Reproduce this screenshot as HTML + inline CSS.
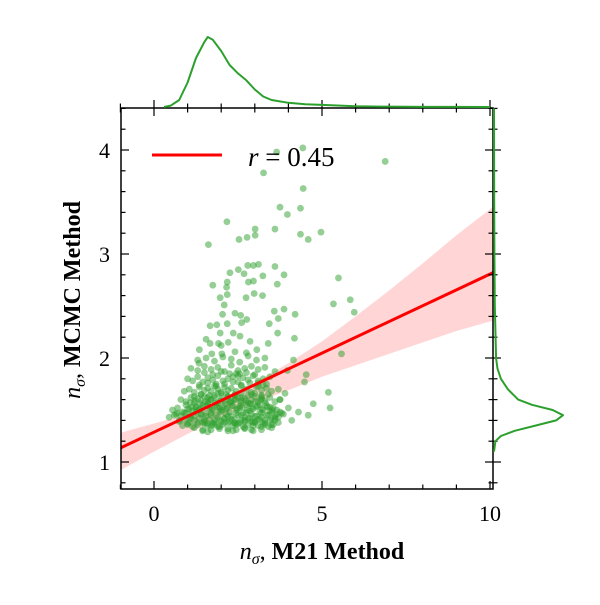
<!DOCTYPE html>
<html><head><meta charset="utf-8"><style>
html,body{margin:0;padding:0;background:#fff;}
svg text{font-family:"Liberation Serif","DejaVu Serif",serif;}
</style></head><body>
<svg id="chart" width="600" height="600" viewBox="0 0 600 600" xmlns="http://www.w3.org/2000/svg">
<defs><clipPath id="clip"><rect x="121" y="108" width="372" height="381"/></clipPath></defs>
<g id="band" clip-path="url(#clip)"></g>
<g id="pts" clip-path="url(#clip)"></g>
<g id="fit" clip-path="url(#clip)"></g>
<g id="axes"></g>
<g id="kde"></g>
<g>
<line x1="152" y1="155" x2="222" y2="155" stroke="#ff0000" stroke-width="3"/>
<text x="248" y="166" font-size="27"><tspan font-style="italic">r</tspan> = 0.45</text>
</g>
<text x="322" y="559" font-size="24" text-anchor="middle"><tspan font-style="italic">n</tspan><tspan font-style="italic" font-size="16" dy="5">σ</tspan><tspan dy="-5">, </tspan><tspan font-weight="bold">M21 Method</tspan></text>
<text transform="translate(80,300) rotate(-90)" font-size="24" text-anchor="middle"><tspan font-style="italic">n</tspan><tspan font-style="italic" font-size="16" dy="5">σ</tspan><tspan dy="-5">, </tspan><tspan font-weight="bold">MCMC Method</tspan></text>
</svg>
<script>
const xTicks=[0,5,10];
const yTicks=[1,2,3,4];
const ptX=[3.65,4.43,6.88,3.26,4.44,3.75,3.97,4.36,2.17,3.01,3.60,1.62,2.53,2.77,3.01,4.36,4.59,4.97,5.49,5.84,5.96,5.34,5.58,5.19,5.24,4.74,4.59,4.48,4.53,4.18,4.20,3.87,3.58,3.70,3.43,3.68,3.87,3.60,3.67,3.24,2.79,2.96,3.11,2.51,2.26,2.68,2.81,2.96,2.18,2.16,1.75,1.97,2.18,2.74,2.98,3.23,2.09,2.04,2.41,2.58,1.67,1.87,2.18,2.61,2.76,1.97,2.36,2.56,2.86,1.35,1.67,1.92,2.21,3.06,3.40,4.15,3.97,1.34,1.72,2.02,2.41,
0.45,0.6,0.75,0.9,1.0,1.1,1.2,1.3,1.4,1.5,1.6,1.7,1.8,1.9,2.0,2.1,2.2,2.3,2.4,2.5,2.6,2.7,2.8,2.9,3.0,3.1,3.2,3.3,3.4,3.5,3.6,3.7,3.85,
0.55,0.7,0.85,0.95,1.05,1.15,1.25,1.35,1.45,1.55,1.65,1.75,1.85,1.95,2.05,2.15,2.25,2.35,2.45,2.55,2.65,2.75,2.85,2.95,3.05,3.15,3.25,3.35,3.45,3.55,3.65,3.75,
0.8,0.95,1.1,1.2,1.3,1.4,1.5,1.6,1.7,1.8,1.9,2.0,2.1,2.2,2.3,2.4,2.5,2.6,2.7,2.8,2.9,3.0,3.1,3.2,3.3,3.45,3.6,3.75,
0.9,1.05,1.2,1.35,1.5,1.6,1.7,1.8,1.9,2.0,2.1,2.2,2.3,2.45,2.6,2.75,2.9,3.05,3.2,3.35,3.5,3.7,
1.0,1.15,1.3,1.45,1.6,1.75,1.9,2.05,2.2,2.35,2.5,2.65,2.8,2.95,3.1,3.25,3.45,
1.1,1.3,1.5,1.7,1.9,2.1,2.3,2.5,2.7,2.9,3.1,3.3,3.6,
1.2,1.45,1.7,1.95,2.2,2.45,2.7,2.95,3.2,3.5,
1.3,1.55,1.8,2.05,2.3,2.55,2.8,3.05,3.3,
1.5,1.8,2.1,2.4,2.7,3.0,3.3,3.6,
1.25,1.6,1.95,2.25,2.55,2.85,3.15,3.45,
1.4,1.65,1.9,2.15,2.4,2.6,2.9,3.2,
0.7,1.05,1.6,2.35,2.9,3.5,1.85,2.55,3.1,2.0,2.75,1.55,2.45,3.25,3.75,4.0,4.3,3.9,4.1,
0.65,0.8,0.95,1.1,1.25,1.4,1.55,1.7,1.85,2.0,2.15,2.3,2.45,2.6,2.75,2.9,3.05,3.2,3.35,3.5,3.65,3.8,
0.75,0.9,1.05,1.2,1.35,1.5,1.65,1.8,1.95,2.1,2.25,2.4,2.55,2.7,2.85,3.0,3.15,3.3,3.45,3.6,
1.0,1.12,1.28,1.42,1.58,1.72,1.88,2.02,2.18,2.32,2.48,2.62,2.78,2.92,3.08,3.22,3.38,3.52,
1.08,1.22,1.38,1.52,1.68,1.82,1.98,2.12,2.28,2.42,2.58,2.72,2.88,3.02,3.18,3.32,
0.85,1.0,1.15,1.3,1.45,1.6,1.75,1.9,2.05,2.2,2.35,2.5,2.65,2.8,2.95,3.1,3.25,3.4,3.55,3.7,
1.2,1.4,1.6,1.8,2.0,2.2,2.4,2.6,2.8,3.0,3.2,3.4,
1.35,1.6,1.85,2.1,2.35,2.6,2.85,3.1,3.35,
1.5,1.75,2.0,2.25,2.5,2.75,3.0,
1.45,1.7,1.95,2.2,2.45,2.7,2.95,3.2];
const ptY=[3.98,4.02,3.89,3.78,3.63,3.45,3.38,3.44,3.31,3.24,3.24,3.09,3.14,3.16,3.18,3.19,3.14,3.21,2.77,2.56,2.44,2.52,2.04,1.67,1.52,1.56,1.45,1.77,1.84,2.19,2.42,2.47,2.45,2.38,2.33,2.24,2.80,2.88,2.71,2.79,2.89,2.89,2.90,2.85,2.82,2.81,2.73,2.74,2.73,2.68,2.70,2.58,2.61,2.58,2.62,2.60,2.51,2.42,2.43,2.41,2.31,2.32,2.33,2.34,2.37,2.24,2.24,2.21,2.16,2.08,2.14,2.14,2.15,2.08,2.14,1.98,1.88,1.95,2.04,2.04,2.06,
1.43,1.45,1.40,1.47,1.36,1.42,1.44,1.38,1.46,1.41,1.37,1.45,1.40,1.43,1.39,1.42,1.44,1.41,1.38,1.45,1.40,1.43,1.42,1.39,1.44,1.41,1.43,1.40,1.45,1.42,1.44,1.43,1.46,
1.50,1.52,1.48,1.55,1.51,1.49,1.53,1.50,1.54,1.47,1.52,1.50,1.55,1.49,1.53,1.51,1.48,1.54,1.50,1.52,1.47,1.55,1.49,1.51,1.53,1.48,1.50,1.54,1.49,1.52,1.50,1.48,
1.60,1.58,1.62,1.57,1.61,1.59,1.63,1.58,1.60,1.62,1.57,1.61,1.59,1.63,1.58,1.60,1.62,1.59,1.61,1.57,1.60,1.63,1.58,1.61,1.59,1.62,1.58,1.60,
1.68,1.70,1.67,1.72,1.69,1.71,1.68,1.73,1.70,1.67,1.72,1.69,1.71,1.68,1.73,1.70,1.67,1.72,1.69,1.71,1.68,1.70,
1.80,1.78,1.82,1.77,1.81,1.79,1.83,1.78,1.80,1.82,1.77,1.81,1.79,1.83,1.78,1.80,1.82,
1.90,1.88,1.92,1.89,1.91,1.87,1.93,1.88,1.90,1.92,1.89,1.91,1.87,
1.33,1.31,1.35,1.34,1.32,1.36,1.33,1.35,1.34,1.36,
1.98,2.00,1.97,2.01,1.99,1.96,2.02,1.98,2.00,
1.37,1.36,1.38,1.37,1.39,1.38,1.36,1.40,
1.53,1.56,1.52,1.57,1.54,1.56,1.55,1.53,
1.65,1.64,1.66,1.65,1.64,1.66,1.65,1.64,
1.47,1.43,1.29,1.30,1.31,1.33,1.75,1.85,1.76,2.12,2.05,2.18,1.85,1.74,1.60,1.52,1.48,1.66,1.40,
1.46,1.44,1.47,1.45,1.48,1.46,1.44,1.47,1.45,1.48,1.46,1.44,1.47,1.45,1.48,1.46,1.44,1.47,1.45,1.48,1.46,1.47,
1.39,1.41,1.38,1.40,1.42,1.39,1.41,1.38,1.40,1.42,1.39,1.41,1.38,1.40,1.42,1.39,1.41,1.38,1.40,1.42,
1.51,1.53,1.50,1.52,1.54,1.51,1.53,1.50,1.52,1.54,1.51,1.53,1.50,1.52,1.54,1.51,1.53,1.50,
1.57,1.59,1.56,1.58,1.60,1.57,1.59,1.56,1.58,1.60,1.57,1.59,1.56,1.58,1.60,1.57,
1.35,1.37,1.34,1.36,1.38,1.35,1.37,1.34,1.36,1.38,1.35,1.37,1.34,1.36,1.38,1.35,1.37,1.34,1.36,1.38,
1.63,1.65,1.62,1.64,1.66,1.63,1.65,1.62,1.64,1.66,1.63,1.65,
1.74,1.76,1.73,1.75,1.77,1.74,1.76,1.73,1.75,
1.86,1.84,1.87,1.85,1.83,1.86,1.84,
1.30,1.31,1.32,1.30,1.31,1.32,1.30,1.31];
const fitSlope=0.152, fitIntercept=1.287;
const bandX=[-1,0,1,2,2.5,3,4,5,6,7,8,9,10.2];
const bandLo=[0.92,1.10,1.27,1.43,1.50,1.57,1.69,1.82,1.93,2.04,2.15,2.26,2.37];
const bandHi=[1.28,1.37,1.46,1.60,1.68,1.76,1.95,2.16,2.40,2.65,2.91,3.18,3.48];
const kdeXGrid=[0.3,0.5,0.75,1.0,1.25,1.5,1.6,1.75,2.0,2.25,2.5,2.75,3.0,3.25,3.5,4.0,4.5,5,6,7,8,9,10];
const kdeXDens=[0,0.02,0.1,0.35,0.7,0.93,1.0,0.96,0.8,0.6,0.48,0.38,0.25,0.15,0.1,0.06,0.04,0.03,0.01,0.005,0.002,0.001,0];
const kdeYGrid=[1.1,1.2,1.25,1.3,1.35,1.4,1.45,1.5,1.55,1.6,1.7,1.8,1.9,2.0,2.5,3.0,3.5,4.0,4.4];
const kdeYDens=[0,0.02,0.1,0.3,0.6,0.9,1.0,0.85,0.55,0.35,0.2,0.1,0.05,0.03,0.012,0.006,0.003,0.001,0];

const X0=121,X1=493,Y0=108,Y1=489;
const sx=v=>154+(v-0)*33.6;
const sy=v=>462-(v-1)*104;
const NS='http://www.w3.org/2000/svg';
function mk(tag,attrs,parent){const e=document.createElementNS(NS,tag);for(const k in attrs)e.setAttribute(k,attrs[k]);parent.appendChild(e);return e;}

const bandG=document.getElementById('band');
let d='';
bandX.forEach((x,i)=>{d+=(i?'L':'M')+sx(x)+','+sy(bandHi[i]);});
for(let i=bandX.length-1;i>=0;i--)d+='L'+sx(bandX[i])+','+sy(bandLo[i]);
const band=mk('path',{d:d+'Z',fill:'#ffb3b3','fill-opacity':'0.55'},bandG);



const pg=document.getElementById('pts');
ptX.forEach((x,i)=>{
  const c=mk('circle',{cx:sx(x),cy:sy(ptY[i]),r:3.4,fill:'#2ca02c','fill-opacity':'0.5'},pg);
  
  
});

const fg=document.getElementById('fit');
const fl=mk('line',{x1:sx(-1.1),y1:sy(fitIntercept+fitSlope*-1.1),x2:sx(10.2),y2:sy(fitIntercept+fitSlope*10.2),stroke:'#ff0000','stroke-width':3},fg);



const ag=document.getElementById('axes');
const fr=mk('rect',{x:X0,y:Y0,width:X1-X0,height:Y1-Y0,fill:'none',stroke:'#000','stroke-width':1.5},ag);


for(let v=-1;v<=10;v++){
  const x=sx(v);const maj=xTicks.includes(v);const L=maj?8:4.5;
  mk('line',{x1:x,y1:Y1,x2:x,y2:Y1-L,stroke:'#000','stroke-width':1.2},ag);
  mk('line',{x1:x,y1:Y0-L,x2:x,y2:Y0+L,stroke:'#000','stroke-width':1.2},ag);
  if(maj){const t=mk('text',{x:x,y:521,'font-size':22,'text-anchor':'middle'},ag);t.textContent=v;
    
    }
}
for(let k=0;k<=18;k++){
  const v=0.8+k*0.2;const y=sy(v);if(y<Y0||y>Y1)continue;
  const maj=Math.abs(v-Math.round(v))<1e-6&&yTicks.includes(Math.round(v));const L=maj?8:4.5;
  mk('line',{x1:X0,y1:y,x2:X0+L,y2:y,stroke:'#000','stroke-width':1.2},ag);
  mk('line',{x1:X1-L,y1:y,x2:X1+L,y2:y,stroke:'#000','stroke-width':1.2},ag);
  if(maj){const t=mk('text',{x:110,y:y+8,'font-size':22,'text-anchor':'end'},ag);t.textContent=Math.round(v);
    
    }
}

const kg=document.getElementById('kde');
let dt='';
kdeXGrid.forEach((x,i)=>{dt+=(i?'L':'M')+sx(x)+','+(107-kdeXDens[i]*70);});
const kt=mk('path',{d:dt,fill:'none',stroke:'#2ca02c','stroke-width':2,'stroke-linejoin':'round'},kg);


let dr='';
kdeYGrid.forEach((y,i)=>{dr+=(i?'L':'M')+(494+kdeYDens[i]*69)+','+sy(y);});
const kr=mk('path',{d:dr,fill:'none',stroke:'#2ca02c','stroke-width':2,'stroke-linejoin':'round'},kg);


</script>
</body></html>
